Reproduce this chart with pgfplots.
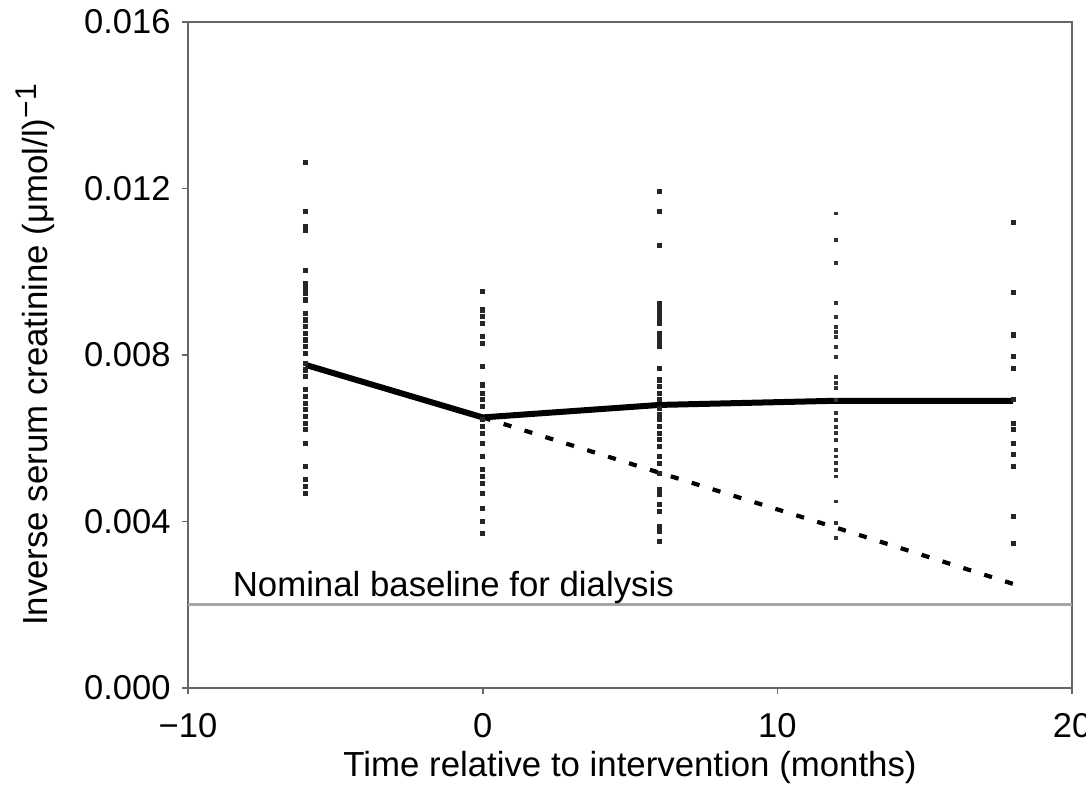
\documentclass[border=0pt]{standalone}
\usepackage{pgfplots}
\pgfplotsset{compat=1.18}
\usepackage{fontspec}
\setmainfont{Liberation Sans}
\begin{document}
\begin{tikzpicture}
\begin{axis}[
  name=ax,
  scale only axis,
  width=294.7pt, height=222pt,
  xmin=-10, xmax=20, ymin=0, ymax=0.016,
  xtick={-10,0,10,20},
  xticklabels={−10,0,10,20},
  ytick={0,0.004,0.008,0.012,0.016},
  scaled y ticks=false,
  yticklabel style={/pgf/number format/fixed, /pgf/number format/fixed zerofill, /pgf/number format/precision=3, /pgf/number format/assume math mode=true, xshift=-0.3pt},
  xticklabel style={yshift=-3pt},
  ticklabel style={font=\fontsize{11.5}{13}\selectfont},
  tick align=outside,
  major tick length=2pt,
  xtick pos=bottom, ytick pos=left,
  axis line style={draw=black!60, line width=0.8pt},
  tick style={black!60, line width=0.6pt},
  font=\fontsize{11.6}{13}\selectfont,
  xlabel={Time relative to intervention (months)},
  ylabel={Inverse serum creatinine (μmol/l)\raisebox{0.3em}{\fontsize{10}{12}\selectfont −1}},
  xlabel style={yshift=2.3pt},
  ylabel style={yshift=3pt, font=\fontsize{11.6}{14}\selectfont},
  clip=false,
]
% nominal baseline
\addplot[black!35, line width=1pt] coordinates {(-10,0.002) (20,0.002)};
\node[anchor=base west, inner sep=0pt, font=\fontsize{11.6}{13}\selectfont] at (axis cs:-8.5,0.00219) {Nominal baseline for dialysis};
% scatter points
\addplot[only marks, mark=square*, mark size=0.65pt, black!85] coordinates {
(-6,0.01262) (-6,0.01144) (-6,0.01108) (-6,0.0110) (-6,0.01004) (-6,0.00972) (-6,0.00960) (-6,0.00948) (-6,0.00932)
(-6,0.0090) (-6,0.00884) (-6,0.00868) (-6,0.00852) (-6,0.00836) (-6,0.0082) (-6,0.00804) (-6,0.0078) (-6,0.00764)
(-6,0.00748) (-6,0.00716) (-6,0.007) (-6,0.00684) (-6,0.00668) (-6,0.00652) (-6,0.00636) (-6,0.0062) (-6,0.00588)
(-6,0.00532) (-6,0.005) (-6,0.00484) (-6,0.00468)
(0,0.00952) (0,0.00908) (0,0.00892) (0,0.00876) (0,0.00844) (0,0.00828) (0,0.00772) (0,0.00728) (0,0.00708)
(0,0.00692) (0,0.00676) (0,0.00644) (0,0.00628) (0,0.00612) (0,0.00588) (0,0.00556) (0,0.00524) (0,0.00508)
(0,0.00492) (0,0.00468) (0,0.00432) (0,0.004) (0,0.00372)
(6,0.01192) (6,0.01144) (6,0.01064) (6,0.00924) (6,0.00912) (6,0.0090) (6,0.00888) (6,0.00876) (6,0.00852)
(6,0.0084) (6,0.00828) (6,0.0082) (6,0.00768) (6,0.0074) (6,0.00724) (6,0.00708) (6,0.00692) (6,0.00672)
(6,0.00656) (6,0.00644) (6,0.00628) (6,0.00612) (6,0.00596) (6,0.0058) (6,0.00556) (6,0.0054) (6,0.00516)
(6,0.00476) (6,0.00464) (6,0.0044) (6,0.00424) (6,0.00388) (6,0.00376) (6,0.00352)
(18,0.01119) (18,0.0095) (18,0.00848) (18,0.00796) (18,0.00768) (18,0.00692) (18,0.00636) (18,0.00621)
(18,0.00588) (18,0.0056) (18,0.00532) (18,0.00412) (18,0.00348)
};
\addplot[only marks, mark=square*, mark size=0.45pt, black!80] coordinates {
(12,0.0114) (12,0.01076) (12,0.0102) (12,0.00924) (12,0.00892) (12,0.00868) (12,0.00856) (12,0.00844) (12,0.0082)
(12,0.00796) (12,0.00748) (12,0.00732) (12,0.0072) (12,0.00692) (12,0.0066) (12,0.00644) (12,0.00628) (12,0.00612)
(12,0.00596) (12,0.00572) (12,0.00556) (12,0.0054) (12,0.00524) (12,0.00508) (12,0.00448) (12,0.00396) (12,0.0036)
};
% projected decline
\addplot[black, line width=1.4pt, dash pattern=on 2.7pt off 4.6pt] coordinates {(0,0.0065) (6,0.00517) (12,0.00385) (18,0.0025)};
% observed mean
\addplot[black, line width=2pt] coordinates {(-6,0.00776) (0,0.0065) (6,0.0068) (12,0.0069) (18,0.0069)};
\end{axis}
\pgfresetboundingbox
\path (ax.south west) ++(-62.67pt,-32.67pt) rectangle ++(362pt,262pt);
\end{tikzpicture}
\end{document}
